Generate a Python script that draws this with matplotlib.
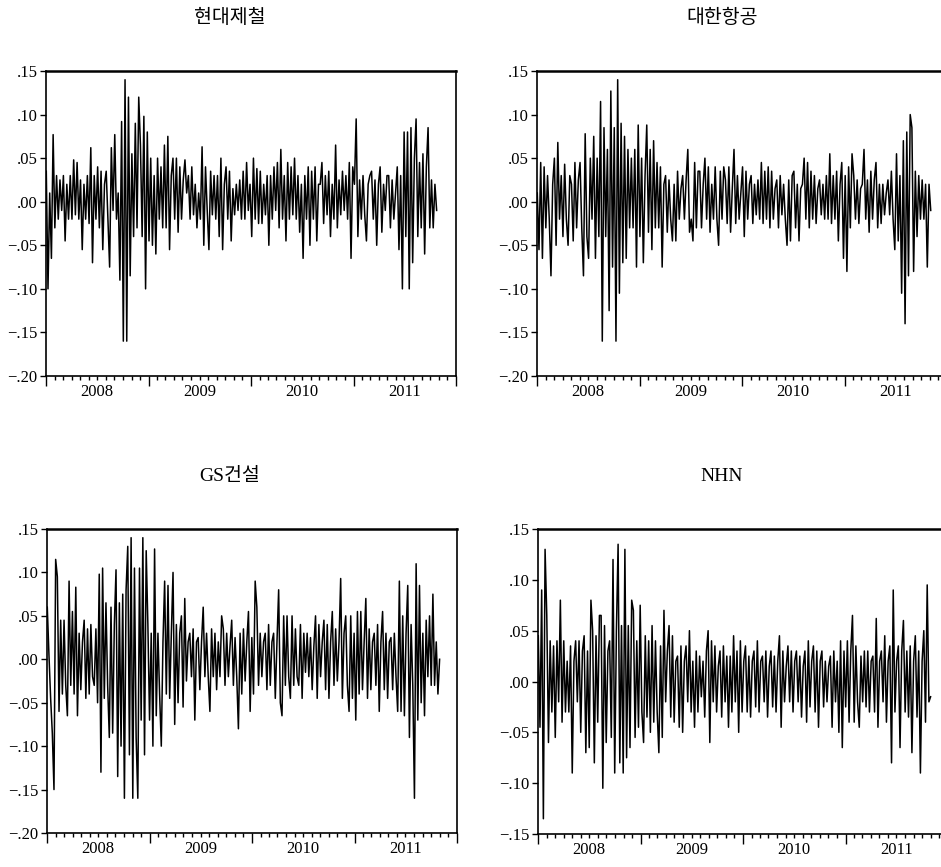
import matplotlib
matplotlib.use('Agg')
import matplotlib.pyplot as plt
import matplotlib.dates as mdates
import matplotlib.ticker as mticker
import pandas as pd

plt.rcParams['font.family'] = ['Liberation Serif', 'Noto Sans CJK KR']

# daily returns (about five values per month, Jan 2008 - Oct 2011)
hyundai_steel = [
    0.035, -0.10, 0.01, -0.065, 0.077,
    -0.03, 0.03, -0.02, 0.025, -0.01,
    0.03, -0.045, 0.02, -0.02, 0.03,
    -0.02, 0.048, -0.015, 0.045, -0.02,
    0.025, -0.055, 0.02, -0.02, 0.03,
    -0.025, 0.062, -0.07, 0.03, -0.02,
    0.04, -0.03, 0.035, -0.055, 0.02,
    0.035, -0.02, -0.075, 0.062, -0.01,
    0.077, -0.02, 0.01, -0.09, 0.092,
    -0.16, 0.14, -0.16, 0.12, -0.085,
    0.055, -0.04, 0.09, -0.03, 0.12,
    0.065, -0.04, 0.098, -0.10, 0.08,
    -0.045, 0.05, -0.05, 0.03, -0.06,
    0.05, -0.02, 0.04, -0.03, 0.065,
    -0.03, 0.075, -0.055, 0.03, 0.05,
    -0.02, 0.05, -0.035, 0.04, -0.02,
    0.025, 0.048, 0.01, 0.03, -0.02,
    0.04, -0.015, 0.02, -0.03, 0.01,
    -0.02, 0.063, -0.05, 0.04, -0.01,
    -0.055, 0.035, -0.015, 0.03, -0.02,
    0.03, -0.04, 0.05, -0.055, 0.02,
    0.04, -0.02, 0.035, -0.045, 0.015,
    -0.015, 0.02, -0.01, 0.025, -0.02,
    0.035, -0.02, 0.045, -0.01, 0.02,
    -0.04, 0.05, -0.02, 0.038, -0.025,
    0.035, -0.025, 0.02, -0.015, 0.03,
    -0.05, 0.03, -0.02, 0.04, -0.01,
    0.045, -0.03, 0.06, -0.02, 0.03,
    -0.045, 0.045, -0.02, 0.04, -0.015,
    0.05, -0.02, 0.03, -0.035, 0.02,
    -0.065, 0.03, -0.02, 0.04, -0.05,
    0.035, -0.02, 0.04, -0.045, 0.02,
    0.02, 0.045, -0.025, 0.03, -0.015,
    0.035, -0.04, 0.02, -0.02, 0.065,
    -0.03, 0.025, -0.015, 0.035, -0.01,
    0.03, -0.02, 0.045, -0.065, 0.04,
    0.02, 0.095, -0.04, 0.025, -0.02,
    0.03, -0.015, -0.045, 0.02, 0.03,
    0.035, -0.02, 0.025, -0.05, 0.02,
    0.04, -0.035, 0.02, -0.01, 0.03,
    0.03, -0.03, 0.025, -0.02, 0.01,
    0.04, -0.055, 0.03, -0.10, 0.08,
    -0.04, 0.08, -0.10, 0.085, -0.07,
    0.05, 0.095, -0.04, 0.045, -0.03,
    0.055, -0.06, 0.04, 0.085, -0.03,
    0.025, -0.03, 0.02, -0.01,
]

korean_air = [
    0.01, -0.055, 0.045, -0.065, 0.04,
    -0.03, 0.03, -0.02, -0.085, 0.02,
    0.05, -0.05, 0.068, -0.02, 0.03,
    -0.04, 0.043, -0.02, -0.05, 0.03,
    0.02, -0.045, 0.045, -0.03, 0.025,
    0.045, -0.03, -0.085, 0.078, -0.04,
    -0.065, 0.05, -0.02, 0.075, -0.065,
    0.05, -0.04, 0.115, -0.16, 0.085,
    -0.04, 0.06, -0.125, 0.127, -0.075,
    0.085, -0.16, 0.14, -0.105, 0.09,
    -0.07, 0.075, -0.065, 0.06, -0.03,
    0.05, -0.03, 0.06, -0.075, 0.088,
    -0.04, 0.05, -0.07, 0.03, 0.088,
    -0.035, 0.06, -0.055, 0.07, -0.03,
    0.045, -0.03, 0.04, -0.075, 0.02,
    0.03, -0.035, 0.025, -0.02, -0.045,
    0.02, -0.045, 0.035, -0.02, 0.015,
    0.03, -0.02, 0.025, 0.06, -0.035,
    -0.02, -0.045, 0.045, -0.03, 0.035,
    0.035, -0.03, 0.02, 0.05, -0.02,
    0.04, -0.035, 0.02, -0.02, 0.04,
    -0.02, -0.05, 0.035, -0.02, 0.04,
    0.025, -0.025, 0.04, -0.035, 0.015,
    0.06, -0.025, 0.03, -0.02, 0.01,
    0.04, -0.04, 0.035, -0.02, 0.02,
    0.03, -0.025, 0.02, -0.015, 0.025,
    -0.02, 0.045, -0.025, 0.035, -0.02,
    0.04, -0.03, 0.035, -0.02, 0.015,
    0.025, -0.03, 0.03, -0.015, 0.02,
    -0.02, -0.05, 0.025, -0.045, 0.03,
    0.035, -0.03, 0.02, -0.045, 0.015,
    0.02, 0.05, -0.02, 0.045, -0.03,
    0.035, -0.02, 0.03, -0.025, 0.015,
    0.025, -0.015, 0.02, -0.02, 0.03,
    -0.02, 0.055, -0.025, 0.03, -0.02,
    0.035, -0.045, 0.02, 0.045, -0.065,
    0.03, -0.08, 0.04, -0.03, 0.055,
    0.03, -0.02, 0.025, -0.025, 0.015,
    0.02, 0.06, -0.02, 0.025, -0.035,
    0.035, -0.02, 0.025, 0.045, -0.03,
    0.02, -0.025, 0.02, -0.015, 0.01,
    0.025, -0.015, 0.035, -0.02, -0.055,
    0.055, -0.045, 0.03, -0.105, 0.07,
    -0.14, 0.08, -0.085, 0.10, 0.085,
    -0.08, 0.035, -0.04, 0.03, -0.02,
    0.025, -0.02, 0.02, -0.075, 0.02, -0.01,
]

gs_construction = [
    0.06, 0.005, -0.045, -0.085, -0.15, 0.115, 0.095,
    -0.06, 0.045, -0.04, 0.045, -0.03,
    -0.065, 0.09, -0.03, 0.055, -0.04, 0.083,
    -0.065, 0.03, -0.035, 0.02, 0.045,
    -0.045, 0.035, -0.04, 0.04, -0.02,
    -0.03, 0.035, -0.05, 0.098, -0.13,
    0.105, -0.045, 0.065, -0.03, -0.09,
    0.06, -0.085, 0.04, 0.103, -0.135,
    0.065, -0.10, 0.075, -0.16, 0.08,
    0.13, -0.11, 0.14, -0.16, 0.105, -0.09,
    -0.16, 0.105, -0.07, 0.14, -0.11, 0.125,
    0.04, -0.07, 0.03, -0.10, 0.127,
    -0.065, 0.03, -0.04, -0.10, 0.02,
    0.09, -0.04, 0.085, -0.045, 0.03,
    0.10, -0.075, 0.04, -0.05, 0.03,
    0.05, -0.055, 0.07, -0.025, 0.02,
    0.03, -0.02, 0.035, -0.07, 0.02,
    0.025, -0.035, 0.02, 0.06, -0.02,
    0.03, -0.02, -0.06, 0.035, -0.02,
    0.03, -0.035, 0.02, -0.02, 0.05,
    0.035, -0.03, 0.03, -0.02, 0.015,
    0.045, -0.03, 0.025, -0.02, -0.08,
    0.03, -0.04, 0.035, -0.025, 0.02,
    0.055, -0.06, 0.025, -0.04, 0.09,
    0.06, -0.03, 0.03, -0.02, 0.02,
    0.03, -0.035, 0.04, -0.03, 0.02,
    0.03, -0.045, 0.02, 0.08, -0.05,
    -0.065, 0.05, -0.03, 0.05, -0.02,
    -0.045, 0.05, -0.03, 0.035, -0.02,
    -0.03, 0.04, -0.045, 0.03, -0.015,
    0.03, -0.02, 0.025, -0.035, 0.015,
    0.05, -0.045, 0.04, -0.02, 0.02,
    0.045, -0.035, 0.04, -0.045, 0.02,
    0.055, -0.03, 0.035, -0.025, 0.02,
    0.093, -0.045, 0.03, 0.05, -0.03,
    -0.06, 0.05, -0.045, 0.03, -0.07,
    0.055, -0.04, 0.055, -0.035, 0.02,
    0.07, -0.045, 0.035, -0.035, 0.02,
    0.03, -0.03, 0.04, -0.06, 0.02,
    0.055, -0.035, 0.03, -0.045, 0.02,
    0.025, -0.035, 0.03, -0.02, -0.06,
    0.09, -0.06, 0.05, -0.065, 0.03,
    0.085, -0.09, 0.04, -0.03, -0.16,
    0.11, -0.07, 0.085, -0.05, 0.03,
    -0.065, 0.045, -0.02, 0.05, -0.03,
    0.075, -0.03, 0.02, -0.04, 0.0,
]

nhn = [
    0.045, -0.045, 0.09, -0.135, 0.13, 0.065,
    -0.06, 0.04, -0.03, 0.035, -0.055,
    0.04, -0.02, 0.08, -0.04, 0.04, -0.03,
    0.02, -0.03, 0.035, -0.09, 0.02,
    0.04, -0.02, 0.04, -0.05, 0.03,
    0.045, -0.07, 0.03, -0.065, 0.08,
    0.05, -0.08, 0.045, -0.04, 0.065,
    0.065, -0.105, 0.055, -0.06, 0.03,
    0.04, -0.055, 0.12, -0.09, 0.05,
    0.135, -0.08, 0.055, -0.09, 0.13,
    -0.075, 0.055, -0.065, 0.08, 0.07,
    -0.055, 0.04, -0.045, 0.075, -0.03,
    -0.06, 0.045, -0.035, 0.04, -0.05,
    0.055, -0.04, 0.04, -0.03, -0.07,
    0.035, -0.055, 0.07, -0.02, 0.03,
    0.055, -0.035, 0.045, -0.04, 0.02,
    0.025, -0.045, 0.035, -0.05, 0.02,
    0.035, -0.02, 0.05, -0.03, 0.02,
    -0.045, 0.03, -0.03, 0.025, -0.015,
    0.02, -0.035, 0.03, 0.05, -0.06,
    0.04, -0.02, 0.035, -0.03, 0.015,
    0.03, -0.035, 0.035, -0.02, 0.025,
    -0.045, 0.025, -0.03, 0.045, -0.02,
    0.03, -0.05, 0.04, -0.03, 0.02,
    0.035, -0.03, 0.025, -0.035, 0.02,
    0.03, -0.025, 0.04, -0.03, 0.02,
    0.025, -0.02, 0.03, -0.035, 0.015,
    0.03, -0.025, 0.025, -0.03, 0.02,
    0.045, -0.045, 0.03, -0.02, 0.015,
    0.035, -0.02, 0.03, -0.03, 0.02,
    0.03, -0.02, 0.025, -0.035, 0.015,
    0.03, -0.04, 0.04, -0.025, 0.02,
    0.035, -0.03, 0.03, -0.045, 0.02,
    0.03, -0.025, 0.02, -0.02, 0.015,
    0.025, -0.045, 0.03, -0.02, 0.02,
    -0.05, 0.04, -0.065, 0.03, -0.025,
    0.04, -0.04, 0.03, 0.065, -0.04,
    0.035, -0.02, -0.045, 0.025, -0.02,
    0.03, -0.025, 0.03, -0.03, 0.02,
    0.025, -0.03, 0.062, -0.045, 0.02,
    0.03, -0.02, 0.045, -0.04, 0.02,
    0.035, -0.08, 0.09, -0.03, 0.02,
    0.035, -0.065, 0.03, 0.06, -0.03,
    0.03, -0.035, 0.035, -0.07, 0.02,
    0.045, -0.035, 0.03, -0.09, 0.02,
    0.05, -0.04, 0.095, -0.02, -0.015,
]

titles = ['현대제철', '대한항공', 'GS건설', 'NHN']
series = [hyundai_steel, korean_air, gs_construction, nhn]
first_day = '2008-01-02'
last_days = ['2011-10-24', '2011-11-04', '2011-10-31', '2011-10-31']
y_ticks = [
    [-0.20, -0.15, -0.10, -0.05, 0.00, 0.05, 0.10, 0.15],
    [-0.20, -0.15, -0.10, -0.05, 0.00, 0.05, 0.10, 0.15],
    [-0.20, -0.15, -0.10, -0.05, 0.00, 0.05, 0.10, 0.15],
    [-0.15, -0.10, -0.05, 0.00, 0.05, 0.10, 0.15],
]

W, H = 941, 867
fig = plt.figure(figsize=(W / 100, H / 100), dpi=100)

# pixel boxes: left, top, bottom, title x, title y
boxes = [(46, 71, 376, 230, 18), (537, 71, 376, 722, 18),
         (47, 529, 833, 230, 476), (538, 529, 834, 722, 476)]


def yfmt(v, pos):
    v = round(v, 2)
    s = f'{abs(v):.2f}'[1:]
    return ('\u2212' + s) if v < 0 else s


def xfmt(v, pos):
    d = mdates.num2date(v)
    return str(d.year) if d.month == 7 else ''


for i in range(4):
    l, t, b, tx, ty = boxes[i]
    ax = fig.add_axes([l / W, 1 - b / H, 410 / W, (b - t) / H])
    vals = series[i]
    dates = pd.date_range(first_day, last_days[i], periods=len(vals))
    ax.plot(dates, vals, color='black', lw=1.1)

    ax.set_xlim(pd.Timestamp('2008-01-01'), pd.Timestamp('2012-01-01'))
    ax.set_ylim(y_ticks[i][0], 0.15)
    ax.set_yticks(y_ticks[i])
    ax.yaxis.set_major_formatter(mticker.FuncFormatter(yfmt))

    ax.xaxis.set_major_locator(mdates.YearLocator())
    ax.xaxis.set_major_formatter(mticker.NullFormatter())
    ax.xaxis.set_minor_locator(mdates.MonthLocator())
    ax.xaxis.set_minor_formatter(mticker.FuncFormatter(xfmt))

    ax.tick_params(axis='x', which='major', direction='out', length=7, width=1)
    ax.tick_params(axis='x', which='minor', direction='out', length=3, width=1,
                   labelsize=12, pad=3)
    ax.tick_params(axis='y', direction='out', length=4, width=1, labelsize=12, pad=2)

    for s in ax.spines.values():
        s.set_linewidth(1.2)
    ax.spines['top'].set_linewidth(1.8)

    fig.text(tx / W, 1 - ty / H, titles[i], ha='center', va='center', fontsize=14)

fig.savefig('out.png', dpi=100)
